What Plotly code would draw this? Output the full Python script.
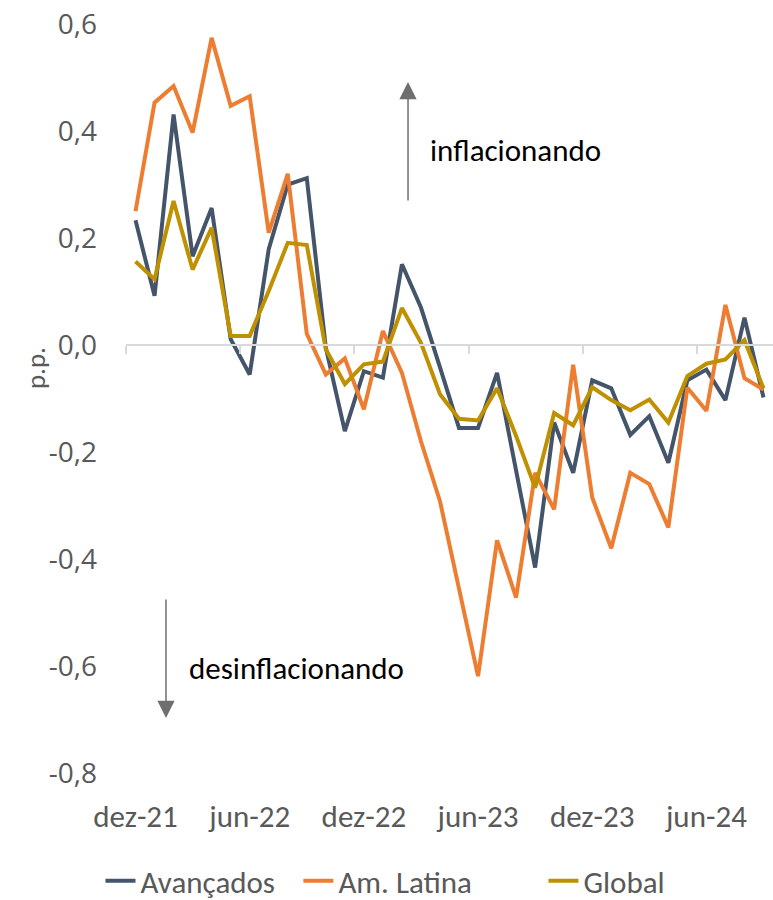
import plotly.graph_objects as go

months = ["dez-21","jan-22","fev-22","mar-22","abr-22","mai-22","jun-22","jul-22","ago-22","set-22",
          "out-22","nov-22","dez-22","jan-23","fev-23","mar-23","abr-23","mai-23","jun-23","jul-23",
          "ago-23","set-23","out-23","nov-23","dez-23","jan-24","fev-24","mar-24","abr-24","mai-24",
          "jun-24","jul-24","ago-24","set-24"]

avancados = [0.233, 0.092, 0.431, 0.166, 0.256, 0.011, -0.055, 0.179, 0.300, 0.312,
             -0.005, -0.161, -0.049, -0.061, 0.151, 0.070, -0.042, -0.155, -0.155, -0.052,
             -0.235, -0.416, -0.145, -0.239, -0.066, -0.081, -0.168, -0.133, -0.220, -0.066,
             -0.046, -0.103, 0.051, -0.098]

am_latina = [0.250, 0.453, 0.484, 0.397, 0.574, 0.447, 0.465, 0.210, 0.320, 0.021,
             -0.055, -0.025, -0.120, 0.026, -0.052, -0.180, -0.292, -0.454, -0.619, -0.365,
             -0.472, -0.239, -0.307, -0.037, -0.285, -0.380, -0.239, -0.260, -0.341, -0.080,
             -0.123, 0.075, -0.062, -0.083]

global_ = [0.156, 0.123, 0.269, 0.141, 0.219, 0.017, 0.017, 0.101, 0.191, 0.187,
           -0.008, -0.073, -0.036, -0.031, 0.069, 0.004, -0.092, -0.138, -0.141, -0.081,
           -0.170, -0.267, -0.127, -0.150, -0.079, -0.103, -0.122, -0.102, -0.145, -0.058,
           -0.035, -0.027, 0.009, -0.081]

series = [("Avançados", avancados, "#44546A", "legend"),
          ("Am. Latina", am_latina, "#ED7D31", "legend2"),
          ("Global", global_, "#BF9000", "legend3")]

y_min, y_max = -0.8, 0.6
ytick_vals = [-0.8, -0.6, -0.4, -0.2, 0.0, 0.2, 0.4, 0.6]
ytick_text = ["-0,8", "-0,6", "-0,4", "-0,2", "0,0", "0,2", "0,4", "0,6"]

FONT = "Carlito, Calibri, Lato, sans-serif"
GREY = "#595959"
ARROW = "#6F6F6F"

fig = go.Figure()
for name, vals, color, lg in series:
    fig.add_trace(go.Scatter(x=months, y=vals, mode="lines", name=name, legend=lg,
                             line=dict(color=color, width=4), hoverinfo="skip"))
# helper trace to create the zero-line axis (x2)
fig.add_trace(go.Scatter(x=months, y=[None]*len(months), xaxis="x2", showlegend=False,
                         hoverinfo="skip", mode="lines"))

zero_pos = (0 - y_min) / (y_max - y_min)

def legend_at(xpos):
    return dict(orientation="h", xref="container", yref="container",
                x=xpos, y=0.021, xanchor="left", yanchor="middle",
                font=dict(family=FONT, size=31, color=GREY), bgcolor="rgba(0,0,0,0)")

fig.update_layout(
    width=773, height=900,
    margin=dict(l=126, r=0, t=24, b=127),
    paper_bgcolor="white", plot_bgcolor="white",
    separators=",.",
    showlegend=True,
    legend=legend_at(0.130),
    legend2=legend_at(0.386),
    legend3=legend_at(0.703),
    xaxis=dict(type="category", range=[-0.5, len(months)-0.5],
               tickmode="array", tickvals=months[::6], ticktext=months[::6],
               showline=False, showgrid=False, zeroline=False, ticks="",
               ticklabelstandoff=22,
               tickfont=dict(family=FONT, size=31, color=GREY)),
    xaxis2=dict(type="category", overlaying="x", matches="x", anchor="free",
                position=zero_pos, side="bottom",
                showline=True, linecolor="#D9D9D9", linewidth=2,
                ticks="outside", ticklen=8, tickwidth=2, tickcolor="#D9D9D9",
                tickson="boundaries", tickmode="linear", tick0=0, dtick=6,
                showticklabels=False, showgrid=False, zeroline=False),
    yaxis=dict(range=[y_min, y_max], tickmode="array", tickvals=ytick_vals,
               ticktext=ytick_text, showgrid=False, zeroline=False, showline=False,
               ticks="", ticklabelstandoff=28,
               tickfont=dict(family="Open Sans", size=28, color=GREY)),
)

# y-axis title
fig.add_annotation(text="p.p.", xref="paper", yref="paper",
                   x=-0.139, y=(773-368)/749, textangle=-90, showarrow=False,
                   font=dict(family=FONT, size=27, color=GREY),
                   xanchor="center", yanchor="middle")

# arrows
fig.add_annotation(text="", xref="paper", yref="paper", x=0.4359, y=(773-82)/749,
                   ax=0, ay=120, showarrow=True, arrowhead=2, arrowsize=2.3,
                   arrowwidth=1.5, arrowcolor=ARROW)
fig.add_annotation(text="", xref="paper", yref="paper", x=0.0618, y=(773-718)/749,
                   ax=0, ay=-120, showarrow=True, arrowhead=2, arrowsize=2.3,
                   arrowwidth=1.5, arrowcolor=ARROW)
fig.add_annotation(text="inflacionando", xref="paper", yref="paper",
                   x=0.4668, y=0.8318, xanchor="left", yanchor="middle",
                   showarrow=False, font=dict(family=FONT, size=31, color="#000000"))
fig.add_annotation(text="desinflacionando", xref="paper", yref="paper",
                   x=0.0943, y=0.1402, xanchor="left", yanchor="middle",
                   showarrow=False, font=dict(family=FONT, size=31, color="#000000"))

fig.write_html("out.html", config={"displayModeBar": False},
               post_script="document.body.style.margin='0';")
